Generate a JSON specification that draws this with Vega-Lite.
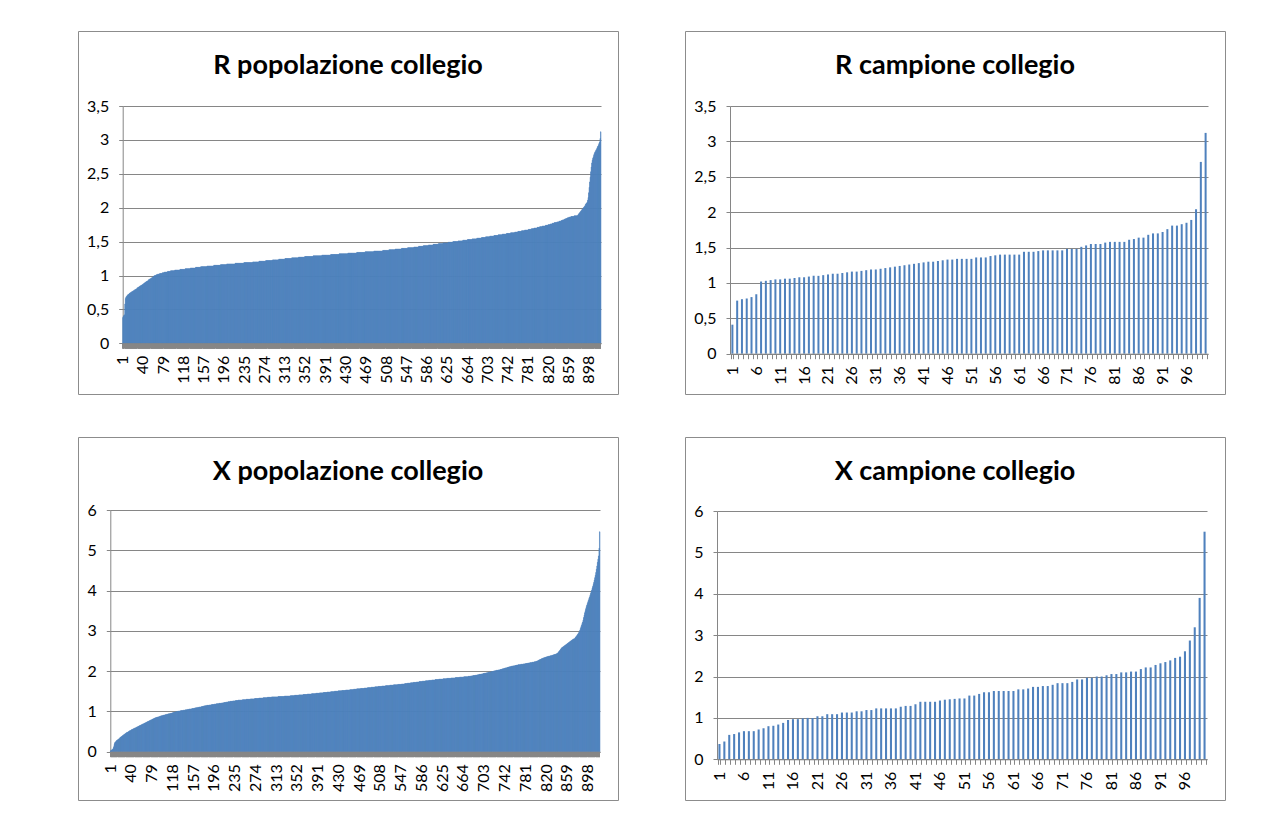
{
"$schema": "https://vega.github.io/schema/vega-lite/v6.json",
"background": "#ffffff",
"padding": {"left": 77, "top": 30, "right": 0, "bottom": 0},
"autosize": {"type": "pad"},
"columns": 2,
"spacing": {"row": 41, "column": 57},
"config": {
"font": "Lato",
"view": {"stroke": "#8c8c8c", "strokeWidth": 1, "fill": "#ffffff"},
"axis": {"labelFont": "Lato", "labelFontSize": 16, "labelColor": "#000000", "domainColor": "#868686", "tickColor": "#868686", "gridColor": "#868686", "domainWidth": 1, "tickWidth": 1, "gridWidth": 1},
"title": {"font": "Lato", "fontSize": 27, "fontWeight": "bold", "color": "#000000", "anchor": "middle"}
},
"datasets": {
"pop": [
{"i":1,"r":0.38,"x":0.02},{"i":2,"r":0.4,"x":0.03},{"i":3,"r":0.41,"x":0.04},{"i":4,"r":0.42,"x":0.05},{"i":5,"r":0.58,"x":0.06},{"i":6,"r":0.66,"x":0.08},{"i":7,"r":0.68,"x":0.12},{"i":8,"r":0.69,"x":0.18},{"i":9,"r":0.7,"x":0.22},{"i":10,"r":0.71,"x":0.24},
{"i":11,"r":0.72,"x":0.25},{"i":12,"r":0.72,"x":0.27},{"i":13,"r":0.73,"x":0.28},{"i":14,"r":0.74,"x":0.29},{"i":15,"r":0.74,"x":0.3},{"i":16,"r":0.75,"x":0.31},{"i":17,"r":0.75,"x":0.32},{"i":18,"r":0.76,"x":0.33},{"i":19,"r":0.76,"x":0.35},{"i":20,"r":0.77,"x":0.36},
{"i":21,"r":0.77,"x":0.37},{"i":22,"r":0.78,"x":0.38},{"i":23,"r":0.78,"x":0.39},{"i":24,"r":0.79,"x":0.4},{"i":25,"r":0.79,"x":0.41},{"i":26,"r":0.8,"x":0.42},{"i":27,"r":0.8,"x":0.43},{"i":28,"r":0.81,"x":0.44},{"i":29,"r":0.82,"x":0.45},{"i":30,"r":0.82,"x":0.46},
{"i":31,"r":0.83,"x":0.47},{"i":32,"r":0.83,"x":0.48},{"i":33,"r":0.84,"x":0.48},{"i":34,"r":0.84,"x":0.49},{"i":35,"r":0.85,"x":0.5},{"i":36,"r":0.85,"x":0.51},{"i":37,"r":0.86,"x":0.52},{"i":38,"r":0.86,"x":0.52},{"i":39,"r":0.87,"x":0.53},{"i":40,"r":0.87,"x":0.54},
{"i":41,"r":0.88,"x":0.55},{"i":42,"r":0.89,"x":0.55},{"i":43,"r":0.89,"x":0.56},{"i":44,"r":0.9,"x":0.57},{"i":45,"r":0.9,"x":0.57},{"i":46,"r":0.91,"x":0.58},{"i":47,"r":0.91,"x":0.59},{"i":48,"r":0.92,"x":0.59},{"i":49,"r":0.92,"x":0.6},{"i":50,"r":0.93,"x":0.61},
{"i":51,"r":0.94,"x":0.61},{"i":52,"r":0.94,"x":0.62},{"i":53,"r":0.95,"x":0.63},{"i":54,"r":0.95,"x":0.63},{"i":55,"r":0.96,"x":0.64},{"i":56,"r":0.96,"x":0.65},{"i":57,"r":0.97,"x":0.65},{"i":58,"r":0.97,"x":0.66},{"i":59,"r":0.98,"x":0.67},{"i":60,"r":0.99,"x":0.67},
{"i":61,"r":0.99,"x":0.68},{"i":62,"r":1,"x":0.69},{"i":63,"r":1,"x":0.69},{"i":64,"r":1,"x":0.7},{"i":65,"r":1.01,"x":0.71},{"i":66,"r":1.01,"x":0.71},{"i":67,"r":1.01,"x":0.72},{"i":68,"r":1.02,"x":0.73},{"i":69,"r":1.02,"x":0.73},{"i":70,"r":1.02,"x":0.74},
{"i":71,"r":1.02,"x":0.75},{"i":72,"r":1.03,"x":0.75},{"i":73,"r":1.03,"x":0.76},{"i":74,"r":1.03,"x":0.77},{"i":75,"r":1.03,"x":0.77},{"i":76,"r":1.03,"x":0.78},{"i":77,"r":1.04,"x":0.79},{"i":78,"r":1.04,"x":0.79},{"i":79,"r":1.04,"x":0.8},{"i":80,"r":1.04,"x":0.81},
{"i":81,"r":1.05,"x":0.81},{"i":82,"r":1.05,"x":0.82},{"i":83,"r":1.05,"x":0.83},{"i":84,"r":1.05,"x":0.83},{"i":85,"r":1.05,"x":0.84},{"i":86,"r":1.05,"x":0.84},{"i":87,"r":1.06,"x":0.85},{"i":88,"r":1.06,"x":0.85},{"i":89,"r":1.06,"x":0.86},{"i":90,"r":1.06,"x":0.86},
{"i":91,"r":1.06,"x":0.86},{"i":92,"r":1.06,"x":0.87},{"i":93,"r":1.07,"x":0.87},{"i":94,"r":1.07,"x":0.88},{"i":95,"r":1.07,"x":0.88},{"i":96,"r":1.07,"x":0.89},{"i":97,"r":1.07,"x":0.89},{"i":98,"r":1.07,"x":0.89},{"i":99,"r":1.07,"x":0.9},{"i":100,"r":1.07,"x":0.9},
{"i":101,"r":1.08,"x":0.91},{"i":102,"r":1.08,"x":0.91},{"i":103,"r":1.08,"x":0.91},{"i":104,"r":1.08,"x":0.92},{"i":105,"r":1.08,"x":0.92},{"i":106,"r":1.08,"x":0.92},{"i":107,"r":1.08,"x":0.93},{"i":108,"r":1.08,"x":0.93},{"i":109,"r":1.08,"x":0.93},{"i":110,"r":1.08,"x":0.94},
{"i":111,"r":1.09,"x":0.94},{"i":112,"r":1.09,"x":0.94},{"i":113,"r":1.09,"x":0.95},{"i":114,"r":1.09,"x":0.95},{"i":115,"r":1.09,"x":0.95},{"i":116,"r":1.09,"x":0.96},{"i":117,"r":1.09,"x":0.96},{"i":118,"r":1.09,"x":0.97},{"i":119,"r":1.09,"x":0.97},{"i":120,"r":1.09,"x":0.98},
{"i":121,"r":1.1,"x":0.98},{"i":122,"r":1.1,"x":0.98},{"i":123,"r":1.1,"x":0.99},{"i":124,"r":1.1,"x":0.99},{"i":125,"r":1.1,"x":0.99},{"i":126,"r":1.1,"x":1},{"i":127,"r":1.1,"x":1},{"i":128,"r":1.1,"x":1},{"i":129,"r":1.1,"x":1.01},{"i":130,"r":1.1,"x":1.01},
{"i":131,"r":1.11,"x":1.01},{"i":132,"r":1.11,"x":1.01},{"i":133,"r":1.11,"x":1.02},{"i":134,"r":1.11,"x":1.02},{"i":135,"r":1.11,"x":1.02},{"i":136,"r":1.11,"x":1.02},{"i":137,"r":1.11,"x":1.02},{"i":138,"r":1.11,"x":1.03},{"i":139,"r":1.11,"x":1.03},{"i":140,"r":1.11,"x":1.03},
{"i":141,"r":1.12,"x":1.03},{"i":142,"r":1.12,"x":1.04},{"i":143,"r":1.12,"x":1.04},{"i":144,"r":1.12,"x":1.04},{"i":145,"r":1.12,"x":1.04},{"i":146,"r":1.12,"x":1.05},{"i":147,"r":1.12,"x":1.05},{"i":148,"r":1.12,"x":1.05},{"i":149,"r":1.12,"x":1.06},{"i":150,"r":1.12,"x":1.06},
{"i":151,"r":1.13,"x":1.06},{"i":152,"r":1.13,"x":1.06},{"i":153,"r":1.13,"x":1.06},{"i":154,"r":1.13,"x":1.07},{"i":155,"r":1.13,"x":1.07},{"i":156,"r":1.13,"x":1.07},{"i":157,"r":1.13,"x":1.07},{"i":158,"r":1.13,"x":1.08},{"i":159,"r":1.13,"x":1.08},{"i":160,"r":1.13,"x":1.08},
{"i":161,"r":1.13,"x":1.09},{"i":162,"r":1.13,"x":1.09},{"i":163,"r":1.14,"x":1.09},{"i":164,"r":1.14,"x":1.09},{"i":165,"r":1.14,"x":1.1},{"i":166,"r":1.14,"x":1.1},{"i":167,"r":1.14,"x":1.1},{"i":168,"r":1.14,"x":1.11},{"i":169,"r":1.14,"x":1.11},{"i":170,"r":1.14,"x":1.11},
{"i":171,"r":1.14,"x":1.11},{"i":172,"r":1.14,"x":1.12},{"i":173,"r":1.14,"x":1.12},{"i":174,"r":1.14,"x":1.12},{"i":175,"r":1.14,"x":1.13},{"i":176,"r":1.15,"x":1.13},{"i":177,"r":1.15,"x":1.13},{"i":178,"r":1.15,"x":1.14},{"i":179,"r":1.15,"x":1.14},{"i":180,"r":1.15,"x":1.14},
{"i":181,"r":1.15,"x":1.14},{"i":182,"r":1.15,"x":1.15},{"i":183,"r":1.15,"x":1.15},{"i":184,"r":1.15,"x":1.15},{"i":185,"r":1.15,"x":1.15},{"i":186,"r":1.15,"x":1.15},{"i":187,"r":1.15,"x":1.16},{"i":188,"r":1.15,"x":1.16},{"i":189,"r":1.16,"x":1.16},{"i":190,"r":1.16,"x":1.16},
{"i":191,"r":1.16,"x":1.17},{"i":192,"r":1.16,"x":1.17},{"i":193,"r":1.16,"x":1.17},{"i":194,"r":1.16,"x":1.17},{"i":195,"r":1.16,"x":1.17},{"i":196,"r":1.16,"x":1.18},{"i":197,"r":1.16,"x":1.18},{"i":198,"r":1.16,"x":1.18},{"i":199,"r":1.16,"x":1.18},{"i":200,"r":1.16,"x":1.19},
{"i":201,"r":1.17,"x":1.19},{"i":202,"r":1.17,"x":1.19},{"i":203,"r":1.17,"x":1.19},{"i":204,"r":1.17,"x":1.19},{"i":205,"r":1.17,"x":1.2},{"i":206,"r":1.17,"x":1.2},{"i":207,"r":1.17,"x":1.2},{"i":208,"r":1.17,"x":1.2},{"i":209,"r":1.17,"x":1.2},{"i":210,"r":1.17,"x":1.21},
{"i":211,"r":1.17,"x":1.21},{"i":212,"r":1.17,"x":1.21},{"i":213,"r":1.17,"x":1.21},{"i":214,"r":1.17,"x":1.22},{"i":215,"r":1.17,"x":1.22},{"i":216,"r":1.17,"x":1.22},{"i":217,"r":1.18,"x":1.22},{"i":218,"r":1.18,"x":1.23},{"i":219,"r":1.18,"x":1.23},{"i":220,"r":1.18,"x":1.23},
{"i":221,"r":1.18,"x":1.23},{"i":222,"r":1.18,"x":1.24},{"i":223,"r":1.18,"x":1.24},{"i":224,"r":1.18,"x":1.24},{"i":225,"r":1.18,"x":1.24},{"i":226,"r":1.18,"x":1.25},{"i":227,"r":1.18,"x":1.25},{"i":228,"r":1.18,"x":1.25},{"i":229,"r":1.18,"x":1.25},{"i":230,"r":1.18,"x":1.25},
{"i":231,"r":1.18,"x":1.26},{"i":232,"r":1.18,"x":1.26},{"i":233,"r":1.18,"x":1.26},{"i":234,"r":1.19,"x":1.26},{"i":235,"r":1.19,"x":1.26},{"i":236,"r":1.19,"x":1.27},{"i":237,"r":1.19,"x":1.27},{"i":238,"r":1.19,"x":1.27},{"i":239,"r":1.19,"x":1.27},{"i":240,"r":1.19,"x":1.27},
{"i":241,"r":1.19,"x":1.28},{"i":242,"r":1.19,"x":1.28},{"i":243,"r":1.19,"x":1.28},{"i":244,"r":1.19,"x":1.28},{"i":245,"r":1.19,"x":1.28},{"i":246,"r":1.19,"x":1.28},{"i":247,"r":1.19,"x":1.28},{"i":248,"r":1.19,"x":1.28},{"i":249,"r":1.19,"x":1.29},{"i":250,"r":1.19,"x":1.29},
{"i":251,"r":1.2,"x":1.29},{"i":252,"r":1.2,"x":1.29},{"i":253,"r":1.2,"x":1.29},{"i":254,"r":1.2,"x":1.29},{"i":255,"r":1.2,"x":1.29},{"i":256,"r":1.2,"x":1.3},{"i":257,"r":1.2,"x":1.3},{"i":258,"r":1.2,"x":1.3},{"i":259,"r":1.2,"x":1.3},{"i":260,"r":1.2,"x":1.3},
{"i":261,"r":1.2,"x":1.3},{"i":262,"r":1.2,"x":1.3},{"i":263,"r":1.21,"x":1.3},{"i":264,"r":1.21,"x":1.31},{"i":265,"r":1.21,"x":1.31},{"i":266,"r":1.21,"x":1.31},{"i":267,"r":1.21,"x":1.31},{"i":268,"r":1.21,"x":1.31},{"i":269,"r":1.21,"x":1.31},{"i":270,"r":1.21,"x":1.31},
{"i":271,"r":1.21,"x":1.31},{"i":272,"r":1.21,"x":1.32},{"i":273,"r":1.21,"x":1.32},{"i":274,"r":1.21,"x":1.32},{"i":275,"r":1.21,"x":1.32},{"i":276,"r":1.22,"x":1.32},{"i":277,"r":1.22,"x":1.32},{"i":278,"r":1.22,"x":1.32},{"i":279,"r":1.22,"x":1.32},{"i":280,"r":1.22,"x":1.33},
{"i":281,"r":1.22,"x":1.33},{"i":282,"r":1.22,"x":1.33},{"i":283,"r":1.22,"x":1.33},{"i":284,"r":1.22,"x":1.33},{"i":285,"r":1.22,"x":1.33},{"i":286,"r":1.22,"x":1.33},{"i":287,"r":1.22,"x":1.33},{"i":288,"r":1.22,"x":1.34},{"i":289,"r":1.23,"x":1.34},{"i":290,"r":1.23,"x":1.34},
{"i":291,"r":1.23,"x":1.34},{"i":292,"r":1.23,"x":1.34},{"i":293,"r":1.23,"x":1.34},{"i":294,"r":1.23,"x":1.34},{"i":295,"r":1.23,"x":1.34},{"i":296,"r":1.23,"x":1.35},{"i":297,"r":1.23,"x":1.35},{"i":298,"r":1.23,"x":1.35},{"i":299,"r":1.23,"x":1.35},{"i":300,"r":1.23,"x":1.35},
{"i":301,"r":1.24,"x":1.35},{"i":302,"r":1.24,"x":1.35},{"i":303,"r":1.24,"x":1.35},{"i":304,"r":1.24,"x":1.36},{"i":305,"r":1.24,"x":1.36},{"i":306,"r":1.24,"x":1.36},{"i":307,"r":1.24,"x":1.36},{"i":308,"r":1.24,"x":1.36},{"i":309,"r":1.24,"x":1.36},{"i":310,"r":1.24,"x":1.36},
{"i":311,"r":1.24,"x":1.36},{"i":312,"r":1.24,"x":1.36},{"i":313,"r":1.25,"x":1.36},{"i":314,"r":1.25,"x":1.36},{"i":315,"r":1.25,"x":1.36},{"i":316,"r":1.25,"x":1.37},{"i":317,"r":1.25,"x":1.37},{"i":318,"r":1.25,"x":1.37},{"i":319,"r":1.25,"x":1.37},{"i":320,"r":1.25,"x":1.37},
{"i":321,"r":1.25,"x":1.37},{"i":322,"r":1.25,"x":1.37},{"i":323,"r":1.25,"x":1.37},{"i":324,"r":1.25,"x":1.37},{"i":325,"r":1.25,"x":1.37},{"i":326,"r":1.26,"x":1.37},{"i":327,"r":1.26,"x":1.37},{"i":328,"r":1.26,"x":1.38},{"i":329,"r":1.26,"x":1.38},{"i":330,"r":1.26,"x":1.38},
{"i":331,"r":1.26,"x":1.38},{"i":332,"r":1.26,"x":1.38},{"i":333,"r":1.26,"x":1.38},{"i":334,"r":1.26,"x":1.38},{"i":335,"r":1.26,"x":1.38},{"i":336,"r":1.26,"x":1.38},{"i":337,"r":1.26,"x":1.38},{"i":338,"r":1.26,"x":1.38},{"i":339,"r":1.27,"x":1.39},{"i":340,"r":1.27,"x":1.39},
{"i":341,"r":1.27,"x":1.39},{"i":342,"r":1.27,"x":1.39},{"i":343,"r":1.27,"x":1.39},{"i":344,"r":1.27,"x":1.39},{"i":345,"r":1.27,"x":1.39},{"i":346,"r":1.27,"x":1.39},{"i":347,"r":1.27,"x":1.4},{"i":348,"r":1.27,"x":1.4},{"i":349,"r":1.27,"x":1.4},{"i":350,"r":1.27,"x":1.4},
{"i":351,"r":1.28,"x":1.4},{"i":352,"r":1.28,"x":1.4},{"i":353,"r":1.28,"x":1.4},{"i":354,"r":1.28,"x":1.4},{"i":355,"r":1.28,"x":1.41},{"i":356,"r":1.28,"x":1.41},{"i":357,"r":1.28,"x":1.41},{"i":358,"r":1.28,"x":1.41},{"i":359,"r":1.28,"x":1.41},{"i":360,"r":1.28,"x":1.41},
{"i":361,"r":1.28,"x":1.41},{"i":362,"r":1.28,"x":1.41},{"i":363,"r":1.28,"x":1.42},{"i":364,"r":1.28,"x":1.42},{"i":365,"r":1.28,"x":1.42},{"i":366,"r":1.28,"x":1.42},{"i":367,"r":1.29,"x":1.42},{"i":368,"r":1.29,"x":1.42},{"i":369,"r":1.29,"x":1.42},{"i":370,"r":1.29,"x":1.42},
{"i":371,"r":1.29,"x":1.43},{"i":372,"r":1.29,"x":1.43},{"i":373,"r":1.29,"x":1.43},{"i":374,"r":1.29,"x":1.43},{"i":375,"r":1.29,"x":1.43},{"i":376,"r":1.29,"x":1.43},{"i":377,"r":1.29,"x":1.43},{"i":378,"r":1.29,"x":1.43},{"i":379,"r":1.29,"x":1.44},{"i":380,"r":1.29,"x":1.44},
{"i":381,"r":1.29,"x":1.44},{"i":382,"r":1.29,"x":1.44},{"i":383,"r":1.29,"x":1.44},{"i":384,"r":1.3,"x":1.44},{"i":385,"r":1.3,"x":1.44},{"i":386,"r":1.3,"x":1.44},{"i":387,"r":1.3,"x":1.45},{"i":388,"r":1.3,"x":1.45},{"i":389,"r":1.3,"x":1.45},{"i":390,"r":1.3,"x":1.45},
{"i":391,"r":1.3,"x":1.45},{"i":392,"r":1.3,"x":1.45},{"i":393,"r":1.3,"x":1.45},{"i":394,"r":1.3,"x":1.46},{"i":395,"r":1.3,"x":1.46},{"i":396,"r":1.3,"x":1.46},{"i":397,"r":1.3,"x":1.46},{"i":398,"r":1.3,"x":1.46},{"i":399,"r":1.3,"x":1.46},{"i":400,"r":1.3,"x":1.46},
{"i":401,"r":1.31,"x":1.47},{"i":402,"r":1.31,"x":1.47},{"i":403,"r":1.31,"x":1.47},{"i":404,"r":1.31,"x":1.47},{"i":405,"r":1.31,"x":1.47},{"i":406,"r":1.31,"x":1.47},{"i":407,"r":1.31,"x":1.47},{"i":408,"r":1.31,"x":1.48},{"i":409,"r":1.31,"x":1.48},{"i":410,"r":1.31,"x":1.48},
{"i":411,"r":1.31,"x":1.48},{"i":412,"r":1.31,"x":1.48},{"i":413,"r":1.31,"x":1.48},{"i":414,"r":1.31,"x":1.48},{"i":415,"r":1.31,"x":1.49},{"i":416,"r":1.31,"x":1.49},{"i":417,"r":1.32,"x":1.49},{"i":418,"r":1.32,"x":1.49},{"i":419,"r":1.32,"x":1.49},{"i":420,"r":1.32,"x":1.49},
{"i":421,"r":1.32,"x":1.49},{"i":422,"r":1.32,"x":1.5},{"i":423,"r":1.32,"x":1.5},{"i":424,"r":1.32,"x":1.5},{"i":425,"r":1.32,"x":1.5},{"i":426,"r":1.32,"x":1.5},{"i":427,"r":1.32,"x":1.5},{"i":428,"r":1.32,"x":1.5},{"i":429,"r":1.32,"x":1.51},{"i":430,"r":1.32,"x":1.51},
{"i":431,"r":1.32,"x":1.51},{"i":432,"r":1.32,"x":1.51},{"i":433,"r":1.32,"x":1.51},{"i":434,"r":1.33,"x":1.51},{"i":435,"r":1.33,"x":1.51},{"i":436,"r":1.33,"x":1.52},{"i":437,"r":1.33,"x":1.52},{"i":438,"r":1.33,"x":1.52},{"i":439,"r":1.33,"x":1.52},{"i":440,"r":1.33,"x":1.52},
{"i":441,"r":1.33,"x":1.52},{"i":442,"r":1.33,"x":1.52},{"i":443,"r":1.33,"x":1.53},{"i":444,"r":1.33,"x":1.53},{"i":445,"r":1.33,"x":1.53},{"i":446,"r":1.33,"x":1.53},{"i":447,"r":1.33,"x":1.53},{"i":448,"r":1.33,"x":1.53},{"i":449,"r":1.33,"x":1.53},{"i":450,"r":1.33,"x":1.53},
{"i":451,"r":1.34,"x":1.54},{"i":452,"r":1.34,"x":1.54},{"i":453,"r":1.34,"x":1.54},{"i":454,"r":1.34,"x":1.54},{"i":455,"r":1.34,"x":1.54},{"i":456,"r":1.34,"x":1.54},{"i":457,"r":1.34,"x":1.54},{"i":458,"r":1.34,"x":1.55},{"i":459,"r":1.34,"x":1.55},{"i":460,"r":1.34,"x":1.55},
{"i":461,"r":1.34,"x":1.55},{"i":462,"r":1.34,"x":1.55},{"i":463,"r":1.34,"x":1.55},{"i":464,"r":1.34,"x":1.56},{"i":465,"r":1.34,"x":1.56},{"i":466,"r":1.34,"x":1.56},{"i":467,"r":1.35,"x":1.56},{"i":468,"r":1.35,"x":1.56},{"i":469,"r":1.35,"x":1.56},{"i":470,"r":1.35,"x":1.56},
{"i":471,"r":1.35,"x":1.57},{"i":472,"r":1.35,"x":1.57},{"i":473,"r":1.35,"x":1.57},{"i":474,"r":1.35,"x":1.57},{"i":475,"r":1.35,"x":1.57},{"i":476,"r":1.35,"x":1.57},{"i":477,"r":1.35,"x":1.57},{"i":478,"r":1.35,"x":1.58},{"i":479,"r":1.35,"x":1.58},{"i":480,"r":1.35,"x":1.58},
{"i":481,"r":1.35,"x":1.58},{"i":482,"r":1.35,"x":1.58},{"i":483,"r":1.35,"x":1.58},{"i":484,"r":1.36,"x":1.59},{"i":485,"r":1.36,"x":1.59},{"i":486,"r":1.36,"x":1.59},{"i":487,"r":1.36,"x":1.59},{"i":488,"r":1.36,"x":1.59},{"i":489,"r":1.36,"x":1.59},{"i":490,"r":1.36,"x":1.59},
{"i":491,"r":1.36,"x":1.6},{"i":492,"r":1.36,"x":1.6},{"i":493,"r":1.36,"x":1.6},{"i":494,"r":1.36,"x":1.6},{"i":495,"r":1.36,"x":1.6},{"i":496,"r":1.36,"x":1.6},{"i":497,"r":1.36,"x":1.6},{"i":498,"r":1.36,"x":1.61},{"i":499,"r":1.36,"x":1.61},{"i":500,"r":1.36,"x":1.61},
{"i":501,"r":1.37,"x":1.61},{"i":502,"r":1.37,"x":1.61},{"i":503,"r":1.37,"x":1.61},{"i":504,"r":1.37,"x":1.62},{"i":505,"r":1.37,"x":1.62},{"i":506,"r":1.37,"x":1.62},{"i":507,"r":1.37,"x":1.62},{"i":508,"r":1.37,"x":1.62},{"i":509,"r":1.37,"x":1.62},{"i":510,"r":1.37,"x":1.62},
{"i":511,"r":1.37,"x":1.63},{"i":512,"r":1.37,"x":1.63},{"i":513,"r":1.38,"x":1.63},{"i":514,"r":1.38,"x":1.63},{"i":515,"r":1.38,"x":1.63},{"i":516,"r":1.38,"x":1.63},{"i":517,"r":1.38,"x":1.63},{"i":518,"r":1.38,"x":1.64},{"i":519,"r":1.38,"x":1.64},{"i":520,"r":1.38,"x":1.64},
{"i":521,"r":1.38,"x":1.64},{"i":522,"r":1.38,"x":1.64},{"i":523,"r":1.38,"x":1.64},{"i":524,"r":1.38,"x":1.64},{"i":525,"r":1.39,"x":1.64},{"i":526,"r":1.39,"x":1.65},{"i":527,"r":1.39,"x":1.65},{"i":528,"r":1.39,"x":1.65},{"i":529,"r":1.39,"x":1.65},{"i":530,"r":1.39,"x":1.65},
{"i":531,"r":1.39,"x":1.65},{"i":532,"r":1.39,"x":1.65},{"i":533,"r":1.39,"x":1.66},{"i":534,"r":1.39,"x":1.66},{"i":535,"r":1.39,"x":1.66},{"i":536,"r":1.39,"x":1.66},{"i":537,"r":1.4,"x":1.66},{"i":538,"r":1.4,"x":1.66},{"i":539,"r":1.4,"x":1.66},{"i":540,"r":1.4,"x":1.66},
{"i":541,"r":1.4,"x":1.67},{"i":542,"r":1.4,"x":1.67},{"i":543,"r":1.4,"x":1.67},{"i":544,"r":1.4,"x":1.67},{"i":545,"r":1.4,"x":1.67},{"i":546,"r":1.4,"x":1.67},{"i":547,"r":1.4,"x":1.67},{"i":548,"r":1.4,"x":1.68},{"i":549,"r":1.41,"x":1.68},{"i":550,"r":1.41,"x":1.68},
{"i":551,"r":1.41,"x":1.68},{"i":552,"r":1.41,"x":1.68},{"i":553,"r":1.41,"x":1.68},{"i":554,"r":1.41,"x":1.69},{"i":555,"r":1.41,"x":1.69},{"i":556,"r":1.41,"x":1.69},{"i":557,"r":1.41,"x":1.69},{"i":558,"r":1.41,"x":1.69},{"i":559,"r":1.41,"x":1.7},{"i":560,"r":1.41,"x":1.7},
{"i":561,"r":1.42,"x":1.7},{"i":562,"r":1.42,"x":1.7},{"i":563,"r":1.42,"x":1.7},{"i":564,"r":1.42,"x":1.7},{"i":565,"r":1.42,"x":1.71},{"i":566,"r":1.42,"x":1.71},{"i":567,"r":1.42,"x":1.71},{"i":568,"r":1.42,"x":1.71},{"i":569,"r":1.42,"x":1.71},{"i":570,"r":1.43,"x":1.72},
{"i":571,"r":1.43,"x":1.72},{"i":572,"r":1.43,"x":1.72},{"i":573,"r":1.43,"x":1.72},{"i":574,"r":1.43,"x":1.72},{"i":575,"r":1.43,"x":1.72},{"i":576,"r":1.43,"x":1.73},{"i":577,"r":1.43,"x":1.73},{"i":578,"r":1.43,"x":1.73},{"i":579,"r":1.44,"x":1.73},{"i":580,"r":1.44,"x":1.73},
{"i":581,"r":1.44,"x":1.74},{"i":582,"r":1.44,"x":1.74},{"i":583,"r":1.44,"x":1.74},{"i":584,"r":1.44,"x":1.74},{"i":585,"r":1.44,"x":1.74},{"i":586,"r":1.44,"x":1.74},{"i":587,"r":1.44,"x":1.75},{"i":588,"r":1.44,"x":1.75},{"i":589,"r":1.45,"x":1.75},{"i":590,"r":1.45,"x":1.75},
{"i":591,"r":1.45,"x":1.75},{"i":592,"r":1.45,"x":1.75},{"i":593,"r":1.45,"x":1.76},{"i":594,"r":1.45,"x":1.76},{"i":595,"r":1.45,"x":1.76},{"i":596,"r":1.45,"x":1.76},{"i":597,"r":1.45,"x":1.76},{"i":598,"r":1.46,"x":1.76},{"i":599,"r":1.46,"x":1.77},{"i":600,"r":1.46,"x":1.77},
{"i":601,"r":1.46,"x":1.77},{"i":602,"r":1.46,"x":1.77},{"i":603,"r":1.46,"x":1.77},{"i":604,"r":1.46,"x":1.77},{"i":605,"r":1.46,"x":1.78},{"i":606,"r":1.46,"x":1.78},{"i":607,"r":1.46,"x":1.78},{"i":608,"r":1.47,"x":1.78},{"i":609,"r":1.47,"x":1.78},{"i":610,"r":1.47,"x":1.78},
{"i":611,"r":1.47,"x":1.79},{"i":612,"r":1.47,"x":1.79},{"i":613,"r":1.47,"x":1.79},{"i":614,"r":1.47,"x":1.79},{"i":615,"r":1.47,"x":1.79},{"i":616,"r":1.47,"x":1.79},{"i":617,"r":1.48,"x":1.79},{"i":618,"r":1.48,"x":1.8},{"i":619,"r":1.48,"x":1.8},{"i":620,"r":1.48,"x":1.8},
{"i":621,"r":1.48,"x":1.8},{"i":622,"r":1.48,"x":1.8},{"i":623,"r":1.48,"x":1.8},{"i":624,"r":1.48,"x":1.8},{"i":625,"r":1.48,"x":1.8},{"i":626,"r":1.48,"x":1.81},{"i":627,"r":1.49,"x":1.81},{"i":628,"r":1.49,"x":1.81},{"i":629,"r":1.49,"x":1.81},{"i":630,"r":1.49,"x":1.81},
{"i":631,"r":1.49,"x":1.81},{"i":632,"r":1.49,"x":1.81},{"i":633,"r":1.49,"x":1.82},{"i":634,"r":1.49,"x":1.82},{"i":635,"r":1.49,"x":1.82},{"i":636,"r":1.5,"x":1.82},{"i":637,"r":1.5,"x":1.82},{"i":638,"r":1.5,"x":1.82},{"i":639,"r":1.5,"x":1.82},{"i":640,"r":1.5,"x":1.82},
{"i":641,"r":1.5,"x":1.83},{"i":642,"r":1.5,"x":1.83},{"i":643,"r":1.5,"x":1.83},{"i":644,"r":1.5,"x":1.83},{"i":645,"r":1.5,"x":1.83},{"i":646,"r":1.51,"x":1.83},{"i":647,"r":1.51,"x":1.83},{"i":648,"r":1.51,"x":1.83},{"i":649,"r":1.51,"x":1.84},{"i":650,"r":1.51,"x":1.84},
{"i":651,"r":1.51,"x":1.84},{"i":652,"r":1.51,"x":1.84},{"i":653,"r":1.51,"x":1.84},{"i":654,"r":1.51,"x":1.84},{"i":655,"r":1.52,"x":1.84},{"i":656,"r":1.52,"x":1.84},{"i":657,"r":1.52,"x":1.85},{"i":658,"r":1.52,"x":1.85},{"i":659,"r":1.52,"x":1.85},{"i":660,"r":1.52,"x":1.85},
{"i":661,"r":1.52,"x":1.85},{"i":662,"r":1.52,"x":1.85},{"i":663,"r":1.52,"x":1.85},{"i":664,"r":1.53,"x":1.85},{"i":665,"r":1.53,"x":1.86},{"i":666,"r":1.53,"x":1.86},{"i":667,"r":1.53,"x":1.86},{"i":668,"r":1.53,"x":1.86},{"i":669,"r":1.53,"x":1.86},{"i":670,"r":1.53,"x":1.86},
{"i":671,"r":1.53,"x":1.86},{"i":672,"r":1.53,"x":1.86},{"i":673,"r":1.54,"x":1.87},{"i":674,"r":1.54,"x":1.87},{"i":675,"r":1.54,"x":1.87},{"i":676,"r":1.54,"x":1.87},{"i":677,"r":1.54,"x":1.87},{"i":678,"r":1.54,"x":1.88},{"i":679,"r":1.54,"x":1.88},{"i":680,"r":1.54,"x":1.88},
{"i":681,"r":1.54,"x":1.88},{"i":682,"r":1.55,"x":1.89},{"i":683,"r":1.55,"x":1.89},{"i":684,"r":1.55,"x":1.89},{"i":685,"r":1.55,"x":1.89},{"i":686,"r":1.55,"x":1.89},{"i":687,"r":1.55,"x":1.9},{"i":688,"r":1.55,"x":1.9},{"i":689,"r":1.55,"x":1.9},{"i":690,"r":1.55,"x":1.9},
{"i":691,"r":1.56,"x":1.91},{"i":692,"r":1.56,"x":1.91},{"i":693,"r":1.56,"x":1.91},{"i":694,"r":1.56,"x":1.92},{"i":695,"r":1.56,"x":1.92},{"i":696,"r":1.56,"x":1.92},{"i":697,"r":1.56,"x":1.92},{"i":698,"r":1.56,"x":1.93},{"i":699,"r":1.57,"x":1.93},{"i":700,"r":1.57,"x":1.93},
{"i":701,"r":1.57,"x":1.94},{"i":702,"r":1.57,"x":1.94},{"i":703,"r":1.57,"x":1.94},{"i":704,"r":1.57,"x":1.95},{"i":705,"r":1.57,"x":1.95},{"i":706,"r":1.57,"x":1.95},{"i":707,"r":1.58,"x":1.95},{"i":708,"r":1.58,"x":1.96},{"i":709,"r":1.58,"x":1.96},{"i":710,"r":1.58,"x":1.96},
{"i":711,"r":1.58,"x":1.97},{"i":712,"r":1.58,"x":1.97},{"i":713,"r":1.58,"x":1.97},{"i":714,"r":1.58,"x":1.98},{"i":715,"r":1.59,"x":1.98},{"i":716,"r":1.59,"x":1.98},{"i":717,"r":1.59,"x":1.99},{"i":718,"r":1.59,"x":1.99},{"i":719,"r":1.59,"x":1.99},{"i":720,"r":1.59,"x":2},
{"i":721,"r":1.59,"x":2},{"i":722,"r":1.59,"x":2},{"i":723,"r":1.6,"x":2.01},{"i":724,"r":1.6,"x":2.01},{"i":725,"r":1.6,"x":2.01},{"i":726,"r":1.6,"x":2.02},{"i":727,"r":1.6,"x":2.02},{"i":728,"r":1.6,"x":2.02},{"i":729,"r":1.6,"x":2.02},{"i":730,"r":1.6,"x":2.03},
{"i":731,"r":1.61,"x":2.03},{"i":732,"r":1.61,"x":2.03},{"i":733,"r":1.61,"x":2.04},{"i":734,"r":1.61,"x":2.04},{"i":735,"r":1.61,"x":2.04},{"i":736,"r":1.61,"x":2.05},{"i":737,"r":1.61,"x":2.05},{"i":738,"r":1.61,"x":2.06},{"i":739,"r":1.62,"x":2.06},{"i":740,"r":1.62,"x":2.06},
{"i":741,"r":1.62,"x":2.07},{"i":742,"r":1.62,"x":2.07},{"i":743,"r":1.62,"x":2.08},{"i":744,"r":1.62,"x":2.08},{"i":745,"r":1.62,"x":2.08},{"i":746,"r":1.62,"x":2.09},{"i":747,"r":1.63,"x":2.09},{"i":748,"r":1.63,"x":2.1},{"i":749,"r":1.63,"x":2.1},{"i":750,"r":1.63,"x":2.1},
{"i":751,"r":1.63,"x":2.11},{"i":752,"r":1.63,"x":2.11},{"i":753,"r":1.63,"x":2.11},{"i":754,"r":1.63,"x":2.12},{"i":755,"r":1.64,"x":2.12},{"i":756,"r":1.64,"x":2.12},{"i":757,"r":1.64,"x":2.13},{"i":758,"r":1.64,"x":2.13},{"i":759,"r":1.64,"x":2.13},{"i":760,"r":1.64,"x":2.13},
{"i":761,"r":1.65,"x":2.14},{"i":762,"r":1.65,"x":2.14},{"i":763,"r":1.65,"x":2.14},{"i":764,"r":1.65,"x":2.15},{"i":765,"r":1.65,"x":2.15},{"i":766,"r":1.65,"x":2.15},{"i":767,"r":1.65,"x":2.16},{"i":768,"r":1.66,"x":2.16},{"i":769,"r":1.66,"x":2.16},{"i":770,"r":1.66,"x":2.16},
{"i":771,"r":1.66,"x":2.16},{"i":772,"r":1.66,"x":2.17},{"i":773,"r":1.66,"x":2.17},{"i":774,"r":1.67,"x":2.17},{"i":775,"r":1.67,"x":2.17},{"i":776,"r":1.67,"x":2.17},{"i":777,"r":1.67,"x":2.18},{"i":778,"r":1.67,"x":2.18},{"i":779,"r":1.67,"x":2.18},{"i":780,"r":1.67,"x":2.18},
{"i":781,"r":1.68,"x":2.19},{"i":782,"r":1.68,"x":2.19},{"i":783,"r":1.68,"x":2.19},{"i":784,"r":1.68,"x":2.19},{"i":785,"r":1.68,"x":2.2},{"i":786,"r":1.68,"x":2.2},{"i":787,"r":1.69,"x":2.2},{"i":788,"r":1.69,"x":2.2},{"i":789,"r":1.69,"x":2.21},{"i":790,"r":1.69,"x":2.21},
{"i":791,"r":1.69,"x":2.21},{"i":792,"r":1.7,"x":2.21},{"i":793,"r":1.7,"x":2.22},{"i":794,"r":1.7,"x":2.22},{"i":795,"r":1.7,"x":2.22},{"i":796,"r":1.7,"x":2.22},{"i":797,"r":1.7,"x":2.23},{"i":798,"r":1.71,"x":2.23},{"i":799,"r":1.71,"x":2.23},{"i":800,"r":1.71,"x":2.24},
{"i":801,"r":1.71,"x":2.24},{"i":802,"r":1.71,"x":2.25},{"i":803,"r":1.72,"x":2.25},{"i":804,"r":1.72,"x":2.26},{"i":805,"r":1.72,"x":2.27},{"i":806,"r":1.72,"x":2.27},{"i":807,"r":1.72,"x":2.28},{"i":808,"r":1.73,"x":2.29},{"i":809,"r":1.73,"x":2.29},{"i":810,"r":1.73,"x":2.3},
{"i":811,"r":1.73,"x":2.31},{"i":812,"r":1.73,"x":2.31},{"i":813,"r":1.73,"x":2.32},{"i":814,"r":1.74,"x":2.32},{"i":815,"r":1.74,"x":2.33},{"i":816,"r":1.74,"x":2.33},{"i":817,"r":1.74,"x":2.34},{"i":818,"r":1.74,"x":2.34},{"i":819,"r":1.75,"x":2.35},{"i":820,"r":1.75,"x":2.35},
{"i":821,"r":1.75,"x":2.36},{"i":822,"r":1.75,"x":2.36},{"i":823,"r":1.76,"x":2.36},{"i":824,"r":1.76,"x":2.37},{"i":825,"r":1.76,"x":2.37},{"i":826,"r":1.76,"x":2.37},{"i":827,"r":1.77,"x":2.38},{"i":828,"r":1.77,"x":2.38},{"i":829,"r":1.77,"x":2.38},{"i":830,"r":1.77,"x":2.39},
{"i":831,"r":1.78,"x":2.39},{"i":832,"r":1.78,"x":2.4},{"i":833,"r":1.78,"x":2.4},{"i":834,"r":1.78,"x":2.41},{"i":835,"r":1.78,"x":2.41},{"i":836,"r":1.79,"x":2.41},{"i":837,"r":1.79,"x":2.42},{"i":838,"r":1.79,"x":2.42},{"i":839,"r":1.79,"x":2.43},{"i":840,"r":1.8,"x":2.44},
{"i":841,"r":1.8,"x":2.45},{"i":842,"r":1.8,"x":2.46},{"i":843,"r":1.8,"x":2.48},{"i":844,"r":1.81,"x":2.5},{"i":845,"r":1.81,"x":2.51},{"i":846,"r":1.81,"x":2.53},{"i":847,"r":1.82,"x":2.55},{"i":848,"r":1.82,"x":2.57},{"i":849,"r":1.82,"x":2.58},{"i":850,"r":1.83,"x":2.59},
{"i":851,"r":1.83,"x":2.6},{"i":852,"r":1.83,"x":2.61},{"i":853,"r":1.84,"x":2.62},{"i":854,"r":1.84,"x":2.63},{"i":855,"r":1.84,"x":2.64},{"i":856,"r":1.85,"x":2.65},{"i":857,"r":1.85,"x":2.66},{"i":858,"r":1.85,"x":2.67},{"i":859,"r":1.86,"x":2.68},{"i":860,"r":1.86,"x":2.69},
{"i":861,"r":1.86,"x":2.7},{"i":862,"r":1.86,"x":2.71},{"i":863,"r":1.87,"x":2.72},{"i":864,"r":1.87,"x":2.73},{"i":865,"r":1.87,"x":2.74},{"i":866,"r":1.87,"x":2.75},{"i":867,"r":1.87,"x":2.76},{"i":868,"r":1.87,"x":2.77},{"i":869,"r":1.88,"x":2.78},{"i":870,"r":1.88,"x":2.79},
{"i":871,"r":1.88,"x":2.8},{"i":872,"r":1.88,"x":2.8},{"i":873,"r":1.88,"x":2.81},{"i":874,"r":1.88,"x":2.83},{"i":875,"r":1.88,"x":2.85},{"i":876,"r":1.89,"x":2.86},{"i":877,"r":1.9,"x":2.88},{"i":878,"r":1.91,"x":2.9},{"i":879,"r":1.92,"x":2.92},{"i":880,"r":1.93,"x":2.94},
{"i":881,"r":1.94,"x":2.96},{"i":882,"r":1.95,"x":2.98},{"i":883,"r":1.96,"x":3.02},{"i":884,"r":1.97,"x":3.06},{"i":885,"r":1.98,"x":3.1},{"i":886,"r":1.99,"x":3.14},{"i":887,"r":2,"x":3.18},{"i":888,"r":2.01,"x":3.22},{"i":889,"r":2.02,"x":3.27},{"i":890,"r":2.03,"x":3.33},
{"i":891,"r":2.05,"x":3.39},{"i":892,"r":2.06,"x":3.45},{"i":893,"r":2.07,"x":3.5},{"i":894,"r":2.08,"x":3.55},{"i":895,"r":2.11,"x":3.6},{"i":896,"r":2.15,"x":3.64},{"i":897,"r":2.22,"x":3.68},{"i":898,"r":2.3,"x":3.72},{"i":899,"r":2.38,"x":3.76},{"i":900,"r":2.45,"x":3.8},
{"i":901,"r":2.53,"x":3.84},{"i":902,"r":2.6,"x":3.88},{"i":903,"r":2.66,"x":3.93},{"i":904,"r":2.7,"x":3.97},{"i":905,"r":2.73,"x":4.01},{"i":906,"r":2.75,"x":4.06},{"i":907,"r":2.78,"x":4.1},{"i":908,"r":2.8,"x":4.15},{"i":909,"r":2.82,"x":4.2},{"i":910,"r":2.83,"x":4.26},
{"i":911,"r":2.85,"x":4.32},{"i":912,"r":2.86,"x":4.38},{"i":913,"r":2.88,"x":4.45},{"i":914,"r":2.9,"x":4.53},{"i":915,"r":2.91,"x":4.61},{"i":916,"r":2.93,"x":4.7},{"i":917,"r":2.95,"x":4.78},{"i":918,"r":2.97,"x":4.86},{"i":919,"r":3.02,"x":5.05},{"i":920,"r":3.12,"x":5.46}
],
"camp": [
{"k":1,"r":0.41,"x":0.37},{"k":2,"r":0.75,"x":0.43},{"k":3,"r":0.77,"x":0.59},{"k":4,"r":0.78,"x":0.61},{"k":5,"r":0.8,"x":0.65},{"k":6,"r":0.84,"x":0.68},{"k":7,"r":1.02,"x":0.68},{"k":8,"r":1.03,"x":0.68},{"k":9,"r":1.04,"x":0.72},{"k":10,"r":1.05,"x":0.75},
{"k":11,"r":1.05,"x":0.8},{"k":12,"r":1.06,"x":0.81},{"k":13,"r":1.06,"x":0.84},{"k":14,"r":1.07,"x":0.88},{"k":15,"r":1.08,"x":0.95},{"k":16,"r":1.08,"x":0.97},{"k":17,"r":1.09,"x":0.97},{"k":18,"r":1.1,"x":0.99},{"k":19,"r":1.1,"x":1},{"k":20,"r":1.11,"x":1},
{"k":21,"r":1.12,"x":1.04},{"k":22,"r":1.13,"x":1.04},{"k":23,"r":1.13,"x":1.09},{"k":24,"r":1.14,"x":1.09},{"k":25,"r":1.15,"x":1.09},{"k":26,"r":1.16,"x":1.13},{"k":27,"r":1.16,"x":1.13},{"k":28,"r":1.17,"x":1.13},{"k":29,"r":1.18,"x":1.16},{"k":30,"r":1.19,"x":1.16},
{"k":31,"r":1.19,"x":1.19},{"k":32,"r":1.2,"x":1.19},{"k":33,"r":1.21,"x":1.23},{"k":34,"r":1.22,"x":1.23},{"k":35,"r":1.23,"x":1.23},{"k":36,"r":1.24,"x":1.23},{"k":37,"r":1.25,"x":1.23},{"k":38,"r":1.26,"x":1.27},{"k":39,"r":1.27,"x":1.29},{"k":40,"r":1.28,"x":1.29},
{"k":41,"r":1.29,"x":1.33},{"k":42,"r":1.3,"x":1.39},{"k":43,"r":1.3,"x":1.39},{"k":44,"r":1.31,"x":1.39},{"k":45,"r":1.32,"x":1.39},{"k":46,"r":1.33,"x":1.42},{"k":47,"r":1.33,"x":1.44},{"k":48,"r":1.34,"x":1.45},{"k":49,"r":1.34,"x":1.46},{"k":50,"r":1.34,"x":1.47},
{"k":51,"r":1.34,"x":1.47},{"k":52,"r":1.36,"x":1.54},{"k":53,"r":1.36,"x":1.54},{"k":54,"r":1.36,"x":1.58},{"k":55,"r":1.38,"x":1.62},{"k":56,"r":1.39,"x":1.62},{"k":57,"r":1.4,"x":1.65},{"k":58,"r":1.4,"x":1.65},{"k":59,"r":1.4,"x":1.65},{"k":60,"r":1.4,"x":1.65},
{"k":61,"r":1.4,"x":1.65},{"k":62,"r":1.44,"x":1.69},{"k":63,"r":1.44,"x":1.69},{"k":64,"r":1.44,"x":1.71},{"k":65,"r":1.45,"x":1.75},{"k":66,"r":1.46,"x":1.75},{"k":67,"r":1.46,"x":1.77},{"k":68,"r":1.46,"x":1.77},{"k":69,"r":1.46,"x":1.8},{"k":70,"r":1.46,"x":1.84},
{"k":71,"r":1.48,"x":1.84},{"k":72,"r":1.48,"x":1.84},{"k":73,"r":1.48,"x":1.87},{"k":74,"r":1.51,"x":1.93},{"k":75,"r":1.53,"x":1.93},{"k":76,"r":1.55,"x":1.97},{"k":77,"r":1.55,"x":1.97},{"k":78,"r":1.55,"x":2},{"k":79,"r":1.57,"x":2},{"k":80,"r":1.58,"x":2.03},
{"k":81,"r":1.58,"x":2.06},{"k":82,"r":1.58,"x":2.06},{"k":83,"r":1.58,"x":2.1},{"k":84,"r":1.61,"x":2.1},{"k":85,"r":1.62,"x":2.12},{"k":86,"r":1.64,"x":2.12},{"k":87,"r":1.64,"x":2.18},{"k":88,"r":1.68,"x":2.22},{"k":89,"r":1.7,"x":2.22},{"k":90,"r":1.7,"x":2.28},
{"k":91,"r":1.72,"x":2.32},{"k":92,"r":1.76,"x":2.35},{"k":93,"r":1.81,"x":2.39},{"k":94,"r":1.81,"x":2.45},{"k":95,"r":1.83,"x":2.48},{"k":96,"r":1.85,"x":2.61},{"k":97,"r":1.89,"x":2.87},{"k":98,"r":2.04,"x":3.19},{"k":99,"r":2.71,"x":3.9},{"k":100,"r":3.12,"x":5.5}
]
},
"concat": [
{
"width": 540, "height": 363,
"data": {"name": "pop"},
"title": {"text": "R popolazione collegio", "offset": -49},
"mark": {"type": "bar", "fill": "#4f81bd", "stroke": "#4f81bd", "strokeWidth": 0.5},
"encoding": {
"x": {"field": "i", "type": "ordinal", "title": null,
"scale": {"range": [44.7, 523], "paddingInner": 0, "paddingOuter": 0},
"axis": {"offset": -50.7, "zindex": 1, "labelAngle": -90, "labelOverlap": false, "tickSize": 5, "labelPadding": 7, "labelExpr": "(datum.value - 1) % 39 == 0 ? datum.label : ''"}},
"y": {"field": "r", "type": "quantitative", "title": null,
"scale": {"domain": [0, 3.5], "range": [312.3, 75], "nice": false},
"axis": {"offset": -44.7, "values": [0, 0.5, 1, 1.5, 2, 2.5, 3, 3.5], "grid": true, "tickSize": 4, "labelPadding": 10, "labelExpr": "replace(format(datum.value, '~g'), '.', ',')"}}
}
},
{
"width": 540, "height": 363,
"data": {"name": "camp"},
"title": {"text": "R campione collegio", "offset": -49},
"mark": {"type": "bar", "fill": "#4f81bd"},
"encoding": {
"x": {"field": "k", "type": "ordinal", "title": null,
"scale": {"range": [45, 523], "paddingInner": 0.58, "paddingOuter": 0.29},
"axis": {"offset": -40.3, "zindex": 1, "labelAngle": -90, "labelOverlap": false, "tickSize": 5, "tickBand": "extent", "labelPadding": 7, "labelExpr": "(datum.value - 1) % 5 == 0 ? datum.label : ''"}},
"y": {"field": "r", "type": "quantitative", "title": null,
"scale": {"domain": [0, 3.5], "range": [322.7, 75], "nice": false},
"axis": {"offset": -45, "values": [0, 0.5, 1, 1.5, 2, 2.5, 3, 3.5], "grid": true, "tickSize": 4, "labelPadding": 10, "labelExpr": "replace(format(datum.value, '~g'), '.', ',')"}}
}
},
{
"width": 540, "height": 363,
"data": {"name": "pop"},
"title": {"text": "X popolazione collegio", "offset": -49},
"mark": {"type": "bar", "fill": "#4f81bd", "stroke": "#4f81bd", "strokeWidth": 0.5},
"encoding": {
"x": {"field": "i", "type": "ordinal", "title": null,
"scale": {"range": [32.3, 522], "paddingInner": 0, "paddingOuter": 0},
"axis": {"offset": -48.3, "zindex": 1, "labelAngle": -90, "labelOverlap": false, "tickSize": 5, "labelPadding": 7, "labelExpr": "(datum.value - 1) % 39 == 0 ? datum.label : ''"}},
"y": {"field": "x", "type": "quantitative", "title": null,
"scale": {"domain": [0, 6], "range": [314.7, 73], "nice": false},
"axis": {"offset": -32.3, "values": [0, 1, 2, 3, 4, 5, 6], "grid": true, "tickSize": 4, "labelPadding": 10, "labelExpr": "replace(format(datum.value, '~g'), '.', ',')"}}
}
},
{
"width": 540, "height": 363,
"data": {"name": "camp"},
"title": {"text": "X campione collegio", "offset": -49},
"mark": {"type": "bar", "fill": "#4f81bd"},
"encoding": {
"x": {"field": "k", "type": "ordinal", "title": null,
"scale": {"range": [32, 522], "paddingInner": 0.58, "paddingOuter": 0.29},
"axis": {"offset": -40.7, "zindex": 1, "labelAngle": -90, "labelOverlap": false, "tickSize": 5, "tickBand": "extent", "labelPadding": 7, "labelExpr": "(datum.value - 1) % 5 == 0 ? datum.label : ''"}},
"y": {"field": "x", "type": "quantitative", "title": null,
"scale": {"domain": [0, 6], "range": [322.3, 74], "nice": false},
"axis": {"offset": -32, "values": [0, 1, 2, 3, 4, 5, 6], "grid": true, "tickSize": 4, "labelPadding": 10, "labelExpr": "replace(format(datum.value, '~g'), '.', ',')"}}
}
}
]
}
